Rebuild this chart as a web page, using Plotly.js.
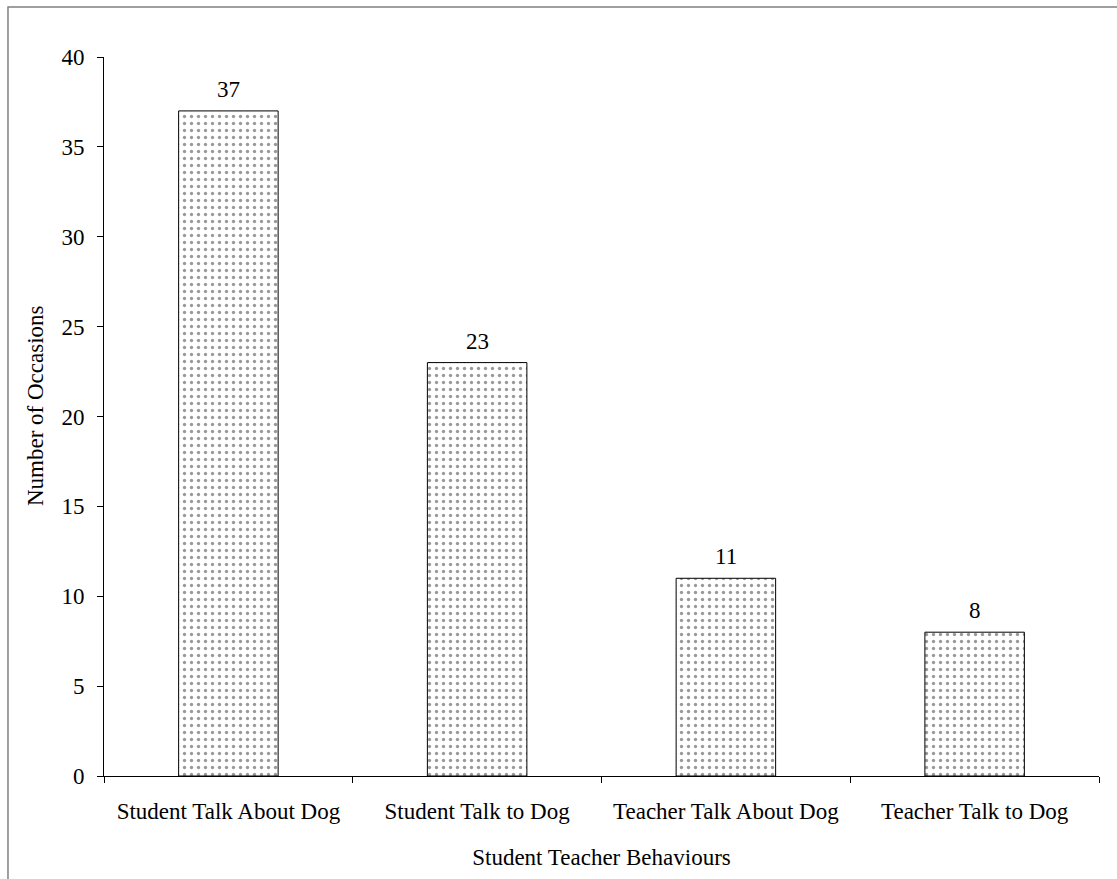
<!DOCTYPE html>
<html>
<head>
<meta charset="utf-8">
<script src="https://cdn.plot.ly/plotly-3.0.1.min.js"></script>
<style>html,body{margin:0;padding:0;background:#fff;}#chart{width:1117px;height:879px;}</style>
</head>
<body>
<div id="chart"></div>
<script>
const categories = ["Student Talk About Dog", "Student Talk to Dog", "Teacher Talk About Dog", "Teacher Talk to Dog"];
const occasions = [37, 23, 11, 8];
const yTicks = [0, 5, 10, 15, 20, 25, 30, 35, 40];
const xTitle = "Student Teacher Behaviours";
const yTitle = "Number of Occasions";

const serif = "Liberation Serif, Times New Roman, serif";

const trace = {
  type: "bar",
  x: categories,
  y: occasions,
  marker: {
    color: "#ffffff",
    line: {color: "#000", width: 1},
    pattern: {shape: ".", size: 7, solidity: 0.18, fgcolor: "#333", bgcolor: "#ffffff", fillmode: "overlay"}
  },
  hoverinfo: "skip"
};

const labels = categories.map((c, i) => ({
  x: c, y: occasions[i], xref: "x", yref: "y",
  text: String(occasions[i]), showarrow: false,
  yanchor: "bottom", yshift: 7,
  font: {family: serif, size: 23, color: "#000"}
}));

labels.push({
  xref: "paper", yref: "paper", x: -0.0693, y: 0.5146,
  xanchor: "center", yanchor: "middle", textangle: -90,
  text: yTitle, showarrow: false,
  font: {family: serif, size: 23, color: "#000"}
});

const layout = {
  width: 1117, height: 879,
  margin: {l: 104, r: 18, t: 57, b: 103},
  paper_bgcolor: "#fff", plot_bgcolor: "#fff",
  font: {family: serif, size: 23, color: "#000"},
  bargap: 0.6,
  showlegend: false,
  xaxis: {
    type: "category",
    showline: true, linecolor: "#000", linewidth: 1,
    ticks: "outside", ticklen: 6, tickcolor: "#000", tickson: "boundaries",
    ticklabelstandoff: 14,
    showgrid: false, zeroline: false,
    tickfont: {family: serif, size: 23, color: "#000"},
    title: {text: xTitle, font: {family: serif, size: 23, color: "#000"}, standoff: 26}
  },
  yaxis: {
    range: [0, 40],
    tickvals: yTicks,
    showline: true, linecolor: "#000", linewidth: 1,
    ticks: "outside", ticklen: 6, tickcolor: "#000",
    ticklabelstandoff: 8,
    showgrid: false, zeroline: false,
    tickfont: {family: serif, size: 23, color: "#000"}
  },
  annotations: labels,
  shapes: [{
    type: "rect", xref: "paper", yref: "paper",
    x0: -0.0965, x1: 1.2, y0: -0.3, y1: 1.0695,
    line: {color: "#808080", width: 1.5}, fillcolor: "rgba(0,0,0,0)", layer: "below"
  }]
};

Plotly.newPlot("chart", [trace], layout, {displayModeBar: false, staticPlot: true});
</script>
</body>
</html>
